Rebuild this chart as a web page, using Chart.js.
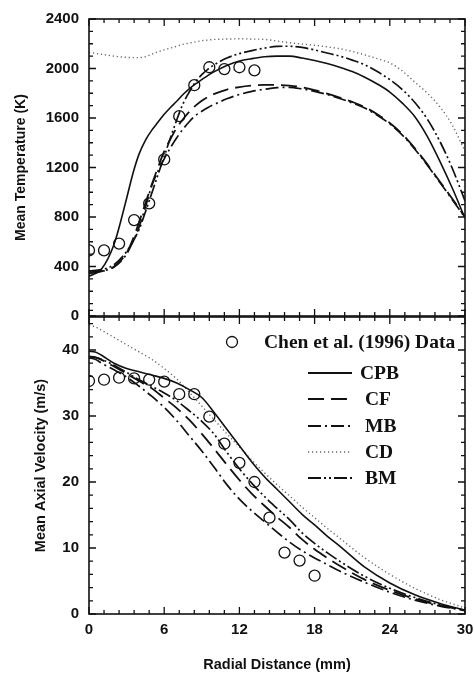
<!DOCTYPE html>
<html>
<head>
<meta charset="utf-8">
<script src="https://cdn.jsdelivr.net/npm/chart.js@4.4.1/dist/chart.umd.min.js"></script>
<style>
html,body{margin:0;padding:0;background:#fff;}
#wrap{position:relative;width:474px;height:677px;overflow:hidden;}
#top{position:absolute;left:0;top:0;width:474px;height:335px;}
#bot{position:absolute;left:0;top:297px;width:474px;height:380px;}
</style>
</head>
<body>
<div id="wrap">
  <div id="top"><canvas id="c1"></canvas></div>
  <div id="bot"><canvas id="c2"></canvas></div>
</div>
<script>
// ---------- DATA ----------
const radialT = [0,1,2,3,3.5,4,4.5,5,5.5,6,6.5,7,7.5,8,8.5,9,9.5,10,11,12,13,14,15,16,17,18,19,20,21,22,23,24,25,26,27,28,29,30];
const cpbT = [320,380,580,950,1150,1310,1420,1500,1565,1630,1685,1735,1790,1835,1875,1910,1945,1975,2025,2060,2080,2095,2100,2100,2085,2065,2040,2010,1975,1930,1875,1810,1720,1610,1450,1250,1030,790];
const cfT  = [345,360,400,510,620,760,910,1060,1200,1330,1430,1520,1590,1650,1700,1740,1770,1795,1830,1850,1862,1867,1867,1862,1848,1825,1797,1765,1730,1688,1630,1560,1470,1355,1225,1085,945,800];
const mbT  = [355,365,395,500,600,720,880,1050,1170,1270,1360,1440,1510,1570,1620,1655,1685,1710,1755,1790,1815,1832,1845,1848,1835,1815,1790,1758,1722,1680,1622,1552,1462,1348,1218,1078,938,795];
const cdT  = [2130,2115,2100,2090,2088,2088,2095,2115,2135,2150,2165,2180,2195,2205,2215,2225,2230,2235,2238,2240,2238,2235,2222,2208,2198,2188,2175,2160,2138,2110,2080,2045,1980,1890,1800,1690,1540,1330];
const bmT  = [365,375,415,520,600,700,840,990,1140,1290,1440,1585,1715,1810,1890,1950,1995,2030,2085,2120,2145,2165,2178,2180,2170,2150,2125,2100,2068,2030,1975,1910,1830,1725,1590,1410,1190,930];

const radialV = [0,0.5,1,2,3,4,5,6,7,8,9,10,11,12,13,14,15,16,17,18,19,20,22,24,26,28,30];
const cpbV = [39.8,39.7,39.2,38.0,37.2,36.7,36.2,35.7,35.0,34.0,32.8,30.5,28.0,25.5,23.0,20.8,18.9,17.0,15.1,13.5,11.8,10.3,7.1,4.7,2.9,1.6,0.6];
const cfV  = [39.0,38.9,38.5,37.5,36.4,35.3,34.2,32.7,31.2,29.4,27.3,25.0,22.6,20.3,18.2,16.4,14.7,13.1,11.3,9.8,8.5,7.3,5.2,3.6,2.3,1.3,0.6];
const mbV  = [38.8,38.6,38.0,37.0,35.9,34.5,33.0,31.3,29.3,27.0,24.7,22.2,19.6,17.4,15.6,14.0,12.4,10.9,9.6,8.5,7.5,6.5,4.8,3.3,2.1,1.2,0.5];
const cdV  = [43.8,43.5,43.0,41.9,40.8,39.7,38.6,37.2,35.6,33.6,31.5,29.4,27.3,25.3,23.3,21.4,19.6,17.9,16.2,14.6,13.0,11.5,8.5,6.0,3.9,2.2,0.9];
const bmV  = [39.0,38.9,38.6,37.7,36.6,35.5,34.5,33.5,32.3,30.8,29.2,27.2,24.5,22.0,19.8,17.8,16.0,14.3,12.3,10.7,9.3,8.0,5.7,3.9,2.5,1.4,0.6];

const dataRadialT = [0,1.2,2.4,3.6,4.8,6,7.2,8.4,9.6,10.8,12,13.2];
const dataT = [530,530,585,775,910,1265,1615,1865,2010,1995,2010,1985];
const dataRadialV = [0,1.2,2.4,3.6,4.8,6,7.2,8.4,9.6,10.8,12,13.2,14.4,15.6,16.8,18];
const dataV = [35.3,35.5,35.8,35.7,35.5,35.2,33.3,33.3,29.9,25.8,22.9,20.0,14.6,9.3,8.1,5.8];

const dataLabel = 'Chen et al. (1996) Data';
const xTitle = 'Radial Distance (mm)';
const yTitleT = 'Mean Temperature (K)';
const yTitleV = 'Mean Axial Velocity (m/s)';

// ---------- STYLES ----------
const lineStyle = {
  CPB: {dash: [], width: 1.6, color: '#111'},
  CF:  {dash: [16, 7], width: 1.8, color: '#111'},
  MB:  {dash: [13, 4, 2, 4], width: 1.7, color: '#111'},
  CD:  {dash: [1.2, 2.8], width: 1.4, color: '#666'},
  BM:  {dash: [13, 3, 2, 3, 2, 3], width: 1.7, color: '#111'}
};
Chart.defaults.font.family = "'Liberation Sans', Arial, sans-serif";
Chart.defaults.color = '#111';

function pts(xs, ys){ return xs.map((x,i)=>({x:x, y:ys[i]})); }
function lineDs(name, xs, ys){
  const s = lineStyle[name];
  return {label:name, data:pts(xs,ys), showLine:true, borderColor:s.color, borderWidth:s.width,
    borderDash:s.dash, pointRadius:0, pointHoverRadius:0, fill:false,
    cubicInterpolationMode:'monotone', borderCapStyle:'butt'};
}
function circleDs(xs, ys){
  return {label:dataLabel, data:pts(xs,ys), showLine:false, pointStyle:'circle',
    pointRadius:5.5, pointBorderWidth:1.3, pointBorderColor:'#111', pointBackgroundColor:'rgba(0,0,0,0)'};
}

// ---------- PLUGINS ----------
const framePlugin = {
  id:'frame',
  afterDatasetsDraw(chart, args, o){
    const {ctx, chartArea:a} = chart;
    const x = chart.scales.x, y = chart.scales.y;
    ctx.save();
    ctx.strokeStyle = '#111';
    ctx.lineWidth = 1.6;
    ctx.strokeRect(a.left, a.top, a.right - a.left, a.bottom - a.top);
    ctx.lineWidth = 1.3;
    ctx.beginPath();
    const nx = Math.round((x.max - x.min) / o.xMinor);
    for (let i = 0; i <= nx; i++){
      const px = x.getPixelForValue(x.min + i * o.xMinor);
      const L = (i % o.xEvery === 0) ? 7 : 4;
      ctx.moveTo(px, a.bottom); ctx.lineTo(px, a.bottom - L);
      ctx.moveTo(px, a.top); ctx.lineTo(px, a.top + L);
    }
    const ny = Math.round((y.max - y.min) / o.yMinor);
    for (let j = 0; j <= ny; j++){
      const py = y.getPixelForValue(y.min + j * o.yMinor);
      const L = (j % o.yEvery === 0) ? 7 : 4;
      ctx.moveTo(a.left, py); ctx.lineTo(a.left + L, py);
      ctx.moveTo(a.right, py); ctx.lineTo(a.right - L, py);
    }
    ctx.stroke();
    ctx.restore();
  }
};

const legendPlugin = {
  id:'boxlegend',
  afterDatasetsDraw(chart, args, o){
    if (!o.show) return;
    const {ctx, chartArea:a} = chart;
    const ds = chart.data.datasets;
    ctx.save();
    ctx.font = "bold 19.5px 'Liberation Serif', 'Times New Roman', serif";
    ctx.fillStyle = '#111';
    ctx.textBaseline = 'middle';
    ctx.textAlign = 'left';
    const cy0 = a.top + 25;
    ctx.beginPath();
    ctx.lineWidth = 1.3; ctx.strokeStyle = '#111';
    ctx.arc(a.left + 143, cy0, 5.5, 0, Math.PI * 2);
    ctx.stroke();
    ctx.fillText(dataLabel, a.left + 175, cy0 + 1);
    const rows = [56, 82, 109, 135, 161];
    const lines = ds.filter(d => d.showLine === true);
    lines.forEach((d, i) => {
      const yy = a.top + rows[i];
      ctx.beginPath();
      ctx.setLineDash(d.borderDash || []);
      ctx.lineWidth = d.borderWidth + 0.3;
      ctx.strokeStyle = d.borderColor;
      ctx.moveTo(a.left + 219, yy);
      ctx.lineTo(a.left + 263, yy);
      ctx.stroke();
      ctx.setLineDash([]);
      ctx.fillStyle = '#111';
      ctx.fillText(d.label, a.left + (d.label.length === 2 ? 276 : 271), yy + 1);
    });
    ctx.restore();
  }
};

const tickFont = {size:15, weight:'bold'};
const plainNum = (v) => String(v);

// ---------- TOP CHART ----------
new Chart(document.getElementById('c1'), {
  type:'scatter',
  data:{datasets:[
    lineDs('CPB', radialT, cpbT),
    lineDs('CF', radialT, cfT),
    lineDs('MB', radialT, mbT),
    lineDs('CD', radialT, cdT),
    lineDs('BM', radialT, bmT),
    circleDs(dataRadialT, dataT)
  ]},
  options:{
    responsive:true, maintainAspectRatio:false, animation:false, devicePixelRatio:1,
    layout:{padding:{left:0, right:9, top:18, bottom:18}},
    plugins:{legend:{display:false}, tooltip:{enabled:false},
      frame:{xMinor:1.2, xEvery:5, yMinor:100, yEvery:4}, boxlegend:{show:false}},
    scales:{
      x:{type:'linear', min:0, max:30, display:false},
      y:{type:'linear', min:0, max:2400,
        afterFit(s){ s.width = 89; },
        grid:{display:false, drawTicks:false}, border:{display:false},
        ticks:{stepSize:400, padding:10, font:tickFont, color:'#111', callback:plainNum},
        title:{display:true, text:yTitleT, font:{size:14, weight:'bold'}, color:'#111', padding:{top:13, bottom:0}}
      }
    }
  },
  plugins:[framePlugin, legendPlugin]
});

// ---------- BOTTOM CHART ----------
new Chart(document.getElementById('c2'), {
  type:'scatter',
  data:{datasets:[
    lineDs('CPB', radialV, cpbV),
    lineDs('CF', radialV, cfV),
    lineDs('MB', radialV, mbV),
    lineDs('CD', radialV, cdV),
    lineDs('BM', radialV, bmV),
    circleDs(dataRadialV, dataV)
  ]},
  options:{
    responsive:true, maintainAspectRatio:false, animation:false, devicePixelRatio:1,
    layout:{padding:{left:0, right:9, top:20, bottom:0}},
    plugins:{legend:{display:false}, tooltip:{enabled:false},
      frame:{xMinor:1.2, xEvery:5, yMinor:2, yEvery:5}, boxlegend:{show:true}},
    scales:{
      x:{type:'linear', min:0, max:30,
        afterFit(s){ s.height = 63; s.paddingRight = 0; s.paddingLeft = 0; },
        grid:{display:false, drawTicks:false}, border:{display:false},
        ticks:{stepSize:6, padding:7, font:tickFont, color:'#111', maxRotation:0, callback:plainNum},
        title:{display:true, text:xTitle, font:{size:14.5, weight:'bold'}, color:'#111', padding:{top:0, bottom:3}}
      },
      y:{type:'linear', min:0, max:45,
        afterFit(s){ s.width = 89; },
        grid:{display:false, drawTicks:false}, border:{display:false},
        ticks:{stepSize:10, includeBounds:false, padding:10, font:tickFont, color:'#111',
          callback:(v)=> (v % 10 === 0 ? String(v) : '')},
        title:{display:true, text:yTitleV, font:{size:14.5, weight:'bold'}, color:'#111', padding:{top:32, bottom:0}}
      }
    }
  },
  plugins:[framePlugin, legendPlugin]
});
</script>
</body>
</html>
